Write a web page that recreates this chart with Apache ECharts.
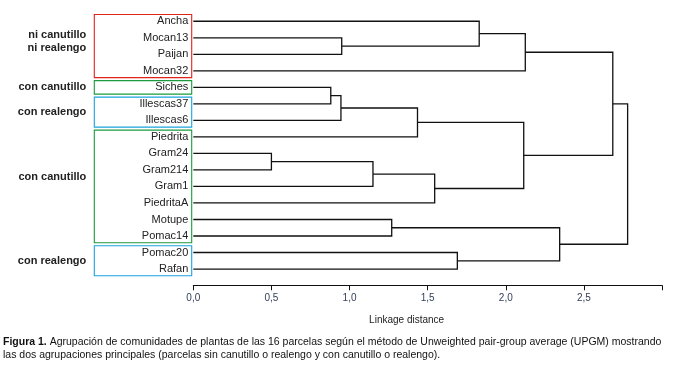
<!DOCTYPE html>
<html>
<head>
<meta charset="utf-8">
<script src="https://cdn.jsdelivr.net/npm/echarts@6/dist/echarts.min.js"></script>
<style>
  html, body { margin: 0; padding: 0; background: #fff; }
  #chart { width: 691px; height: 373px; }
</style>
</head>
<body>
<div id="chart"></div>
<script>
// hojas del dendrograma, de arriba hacia abajo
var leaves = ['Ancha', 'Mocan13', 'Paijan', 'Mocan32', 'Siches', 'Illescas37', 'Illescas6', 'Piedrita',
  'Gram24', 'Gram214', 'Gram1', 'PiedritaA', 'Motupe', 'Pomac14', 'Pomac20', 'Rafan'];

// uniones: [nodo a, nodo b, distancia]; indices >= 16 son uniones previas (16 + n)
var merges = [
  [1, 2, 0.95],     // 16
  [0, 16, 1.83],    // 17
  [17, 3, 2.125],   // 18
  [4, 5, 0.88],     // 19
  [19, 6, 0.945],   // 20
  [20, 7, 1.435],   // 21
  [8, 9, 0.50],     // 22
  [22, 10, 1.15],   // 23
  [23, 11, 1.545],  // 24
  [21, 24, 2.115],  // 25
  [18, 25, 2.685],  // 26
  [12, 13, 1.27],   // 27
  [14, 15, 1.69],   // 28
  [27, 28, 2.345],  // 29
  [26, 29, 2.78]    // 30
];

var xTicks = [0, 0.5, 1, 1.5, 2, 2.5, 3];

// grupos marcados a la izquierda: primera hoja, ultima hoja
var groupNames = ['ni canutillo\nni realengo', 'con canutillo', 'con realengo', 'con canutillo', 'con realengo'];
var groupRange = [[0, 3], [4, 4], [5, 6], [7, 13], [14, 15]];
var groupLabelAt = [1.2, 4, 5.5, 9.4, 14.5];
var groupColors = ['#e2231a', '#1a9a3c', '#1aa3e0', '#1a9a3c', '#1aa3e0'];

var FONT = "'Liberation Sans', Arial, sans-serif";

// posiciones de cada nodo
var nodeX = [], nodeY = [];
for (var i = 0; i < leaves.length; i++) {
  nodeX.push(0);
  nodeY.push(i);
}
var linkData = [];
for (var j = 0; j < merges.length; j++) {
  var a = merges[j][0], b = merges[j][1], h = merges[j][2];
  linkData.push([nodeX[a], nodeY[a], nodeX[b], nodeY[b], h]);
  nodeX.push(h);
  nodeY.push((nodeY[a] + nodeY[b]) / 2);
}

var groupData = [];
for (var g = 0; g < groupRange.length; g++) {
  groupData.push([groupRange[g][0], groupRange[g][1], groupLabelAt[g]]);
}

var chart = echarts.init(document.getElementById('chart'));

var option = {
  animation: false,
  backgroundColor: '#fff',
  title: {
    left: 3,
    top: 336,
    padding: 0,
    text: '{b|Figura 1.} {n|Agrupación de comunidades de plantas de las 16 parcelas según el método de Unweighted pair-group average (UPGM) mostrando}\n' +
      '{n|las dos agrupaciones principales (parcelas sin canutillo o realengo y con canutillo o realengo).}',
    textStyle: {
      fontSize: 10.5,
      fontWeight: 'normal',
      fontFamily: FONT,
      color: '#111',
      lineHeight: 12.6,
      rich: {
        b: { fontSize: 10.5, fontWeight: 'bold', fontFamily: FONT, color: '#111', lineHeight: 12.6 },
        n: { fontSize: 10.5, fontFamily: FONT, color: '#111', lineHeight: 12.6 }
      }
    }
  },
  grid: {
    left: 193.3,
    right: 29,
    top: 13,
    bottom: 95.7
  },
  xAxis: {
    type: 'value',
    min: xTicks[0],
    max: xTicks[xTicks.length - 1],
    interval: 0.5,
    offset: 8,
    splitLine: { show: false },
    axisLine: { show: true, onZero: false, lineStyle: { color: '#111', width: 1 } },
    axisTick: { show: true, length: 5, lineStyle: { color: '#111', width: 1 } },
    axisLabel: {
      margin: 8,
      fontSize: 10,
      fontFamily: FONT,
      color: '#33405a',
      formatter: function (v) {
        if (v >= 3) return '';
        return v.toFixed(1).replace('.', ',');
      }
    },
    name: 'Linkage distance',
    nameLocation: 'middle',
    nameGap: 30,
    nameTextStyle: {
      fontSize: 10,
      fontFamily: FONT,
      color: '#222',
      padding: [0, 42, 0, 0]
    }
  },
  yAxis: [{
    type: 'category',
    data: leaves,
    inverse: true,
    axisLine: { show: false },
    axisTick: { show: false },
    splitLine: { show: false },
    axisLabel: {
      margin: 5,
      fontSize: 11,
      fontFamily: FONT,
      color: '#222'
    }
  }, {
    type: 'value',
    min: -0.5,
    max: 15.5,
    inverse: true,
    show: false
  }],
  series: [{
    type: 'custom',
    name: 'links',
    xAxisIndex: 0,
    yAxisIndex: 1,
    silent: true,
    data: linkData,
    renderItem: function (params, api) {
      var p1 = api.coord([api.value(0), api.value(1)]);
      var p2 = api.coord([api.value(4), api.value(1)]);
      var p3 = api.coord([api.value(4), api.value(3)]);
      var p4 = api.coord([api.value(2), api.value(3)]);
      return {
        type: 'polyline',
        shape: { points: [p1, p2, p3, p4] },
        style: { fill: null, stroke: '#111', lineWidth: 1.3 }
      };
    }
  }, {
    type: 'custom',
    name: 'groups',
    xAxisIndex: 0,
    yAxisIndex: 1,
    silent: true,
    clip: false,
    data: groupData,
    renderItem: function (params, api) {
      var top = api.coord([0, api.value(0) - 0.5]);
      var bot = api.coord([0, api.value(1) + 0.5]);
      var lab = api.coord([0, api.value(2)]);
      var x0 = top[0] - 99;
      var x1 = top[0] - 1.6;
      var c = groupColors[params.dataIndex];
      return {
        type: 'group',
        children: [{
          type: 'rect',
          shape: { x: x0, y: top[1] + 1.5, width: x1 - x0, height: bot[1] - top[1] - 3 },
          style: { fill: null, stroke: c, lineWidth: 1.1 }
        }, {
          type: 'text',
          x: top[0] - 107,
          y: lab[1],
          style: {
            text: groupNames[params.dataIndex],
            align: 'right',
            verticalAlign: 'middle',
            fontSize: 11,
            fontWeight: 'bold',
            fontFamily: FONT,
            lineHeight: 13,
            fill: '#222'
          }
        }]
      };
    }
  }]
};

chart.setOption(option);
</script>
</body>
</html>
